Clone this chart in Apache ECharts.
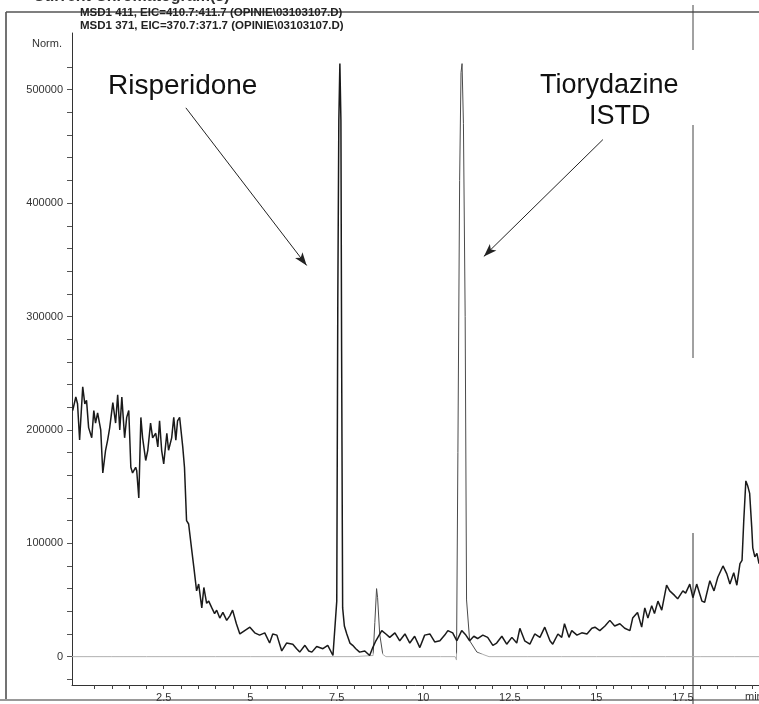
<!DOCTYPE html>
<html>
<head>
<meta charset="utf-8">
<script src="https://cdn.jsdelivr.net/npm/echarts@6/dist/echarts.min.js"></script>
<style>
  html, body { margin: 0; background: #fff; }
  #main { width: 759px; height: 704px; }
</style>
</head>
<body>
<div id="main"></div>
<script>
// MSD1 411 trace (noisy background + Risperidone), time in min, counts in thousands
const msd411Time = [
  -0.13, -0.04, 0.01, 0.07, 0.16, 0.22, 0.27, 0.33, 0.42, 0.48,
  0.53, 0.59, 0.68, 0.74, 0.82, 0.88, 0.94, 1.03, 1.11, 1.17,
  1.23, 1.29, 1.37, 1.43, 1.49, 1.55, 1.60, 1.69, 1.72, 1.78,
  1.84, 1.89, 1.98, 2.04, 2.12, 2.18, 2.27, 2.33, 2.38, 2.44,
  2.50, 2.59, 2.64, 2.73, 2.79, 2.85, 2.90, 2.96, 3.05, 3.10,
  3.16, 3.22, 3.31, 3.37, 3.45, 3.51, 3.60, 3.66, 3.74, 3.80,
  3.89, 3.97, 4.03, 4.12, 4.21, 4.32, 4.41, 4.49, 4.60, 4.70,
  4.84, 4.99, 5.13, 5.27, 5.42, 5.56, 5.65, 5.77, 5.91, 6.05,
  6.23, 6.34, 6.43, 6.58, 6.69, 6.78, 6.92, 7.10, 7.24, 7.39,
  7.44, 7.50, 7.53, 7.56, 7.59, 7.62, 7.64, 7.67, 7.72, 7.79,
  7.88, 7.96, 8.05, 8.16, 8.31, 8.45, 8.54, 8.63, 8.68, 8.80,
  8.92, 9.03, 9.18, 9.32, 9.47, 9.61, 9.75, 9.90, 10.04, 10.19,
  10.33, 10.48, 10.62, 10.71, 10.85, 10.97, 11.11, 11.23, 11.34, 11.46,
  11.57, 11.72, 11.86, 12.01, 12.12, 12.27, 12.41, 12.56, 12.70, 12.79,
  12.93, 13.08, 13.22, 13.37, 13.51, 13.66, 13.74, 13.89, 14.00, 14.08,
  14.21, 14.29, 14.44, 14.58, 14.73, 14.87, 14.96, 15.10, 15.25, 15.39,
  15.53, 15.68, 15.82, 15.97, 16.05, 16.19, 16.31, 16.40, 16.49, 16.60,
  16.68, 16.78, 16.89, 17.03, 17.12, 17.26, 17.35, 17.50, 17.58, 17.70,
  17.79, 17.90, 18.05, 18.13, 18.28, 18.40, 18.51, 18.66, 18.77, 18.86,
  18.97, 19.06, 19.15, 19.21, 19.26, 19.32, 19.37, 19.43, 19.49, 19.52,
  19.58, 19.64, 19.70
];
const msd411K = [
  217, 229, 223, 191, 238, 223, 226, 202, 193, 217,
  206, 215, 200, 162, 182, 191, 202, 224, 206, 231,
  200, 229, 193, 211, 217, 167, 162, 167, 164, 140,
  211, 193, 173, 182, 206, 193, 197, 185, 208, 182,
  170, 197, 182, 193, 211, 191, 208, 211, 185, 167,
  120, 117, 94, 79, 58, 64, 43, 61, 47, 49,
  43, 38, 41, 34, 39, 32, 36, 41, 29, 20,
  23, 26, 21, 19, 21, 12, 20, 19, 5, 12,
  11, 7, 4, 10, 5, 4, 9, 7, 10, 1,
  1, 49, 314, 473, 523, 473, 270, 43, 27, 20,
  12, 10, 7, 4, 5, 1, 8, 14, 14, 23,
  20, 17, 21, 14, 20, 12, 18, 8, 19, 20,
  13, 14, 19, 23, 21, 14, 23, 19, 14, 18,
  16, 19, 17, 10, 12, 18, 11, 17, 12, 25,
  14, 11, 20, 17, 26, 14, 11, 20, 17, 29,
  17, 23, 19, 21, 20, 25, 26, 23, 27, 32,
  27, 29, 25, 23, 34, 39, 26, 43, 34, 45,
  38, 49, 41, 63, 58, 54, 51, 58, 56, 64,
  52, 64, 49, 48, 67, 58, 70, 80, 73, 64,
  74, 63, 82, 85, 120, 155, 151, 144, 114, 96,
  88, 91, 82
];

// MSD1 371 trace (flat baseline + Tiorydazine ISTD)
const msd371Time = [
  -0.15, 1.0, 2.0, 3.0, 4.0, 5.0, 6.0, 7.0, 8.0, 8.55,
  8.60, 8.65, 8.68, 8.74, 8.83, 8.92, 9.5, 10.5, 10.92, 10.96,
  11.00, 11.05, 11.09, 11.12, 11.16, 11.21, 11.25, 11.34, 11.55, 11.72,
  11.90, 13.0, 14.0, 15.0, 16.0, 17.0, 18.0, 19.0, 19.7
];
const msd371K = [
  0, 0, 0, 0, 0, 0, 0, 0, 0, 1,
  30, 60, 52, 20, 2, 0, 0, 0, 0, -3,
  180, 420, 515, 523, 470, 300, 50, 14, 4, 2,
  0, 0, 0, 0, 0, 0, 0, 0, 0
];

const yLabelValues = [0, 100000, 200000, 300000, 400000, 500000];
const xLabelValues = [2.5, 5, 7.5, 10, 12.5, 15, 17.5];

const yTicks = [];
for (let v = -20000; v <= 520000; v += 20000) yTicks.push(v);
const xTicks = [];
for (let v = 0.5; v <= 19.5; v += 0.5) xTicks.push(+v.toFixed(1));

const toPairs = (t, k) => t.map((x, i) => [x, k[i] * 1000]);

const font = 'Liberation Sans, Arial, sans-serif';

// faint near the zero baseline, darker on the peaks (page coordinates)
const baselineFade = {
  type: 'linear', x: 0, y: 640, x2: 0, y2: 660, global: true,
  colorStops: [
    { offset: 0, color: '#4a4a4a' },
    { offset: 0.6, color: '#4a4a4a' },
    { offset: 0.72, color: '#b0b0b0' },
    { offset: 1, color: '#b0b0b0' }
  ]
};

const chart = echarts.init(document.getElementById('main'));

chart.setOption({
  animation: false,
  backgroundColor: '#fff',
  grid: { left: 72, right: 0, top: 33, bottom: 19 },
  xAxis: {
    type: 'value',
    min: -0.15,
    max: 19.7,
    axisLine: { show: true, onZero: false, lineStyle: { color: '#333', width: 1 } },
    axisTick: { show: true, length: 4, customValues: xTicks, lineStyle: { color: '#444' } },
    axisLabel: {
      customValues: xLabelValues, margin: 7,
      fontSize: 11, fontFamily: font, color: '#333',
      formatter: v => String(v)
    },
    splitLine: { show: false }
  },
  yAxis: {
    type: 'value',
    min: -25000,
    max: 550000,
    axisLine: { show: true, onZero: false, lineStyle: { color: '#333', width: 1 } },
    axisTick: { show: true, length: 5, customValues: yTicks, lineStyle: { color: '#555' } },
    axisLabel: {
      customValues: yLabelValues, margin: 9,
      fontSize: 11, fontFamily: font, color: '#333',
      formatter: v => String(v)
    },
    splitLine: { show: false }
  },
  series: [
    {
      name: 'MSD1 371',
      type: 'line',
      showSymbol: false,
      data: toPairs(msd371Time, msd371K),
      lineStyle: { color: baselineFade, width: 1 }
    },
    {
      name: 'MSD1 411',
      type: 'line',
      showSymbol: false,
      data: toPairs(msd411Time, msd411K),
      lineStyle: { color: '#1a1a1a', width: 1.5 },
      markLine: {
        silent: true,
        symbol: ['none', 'arrow'],
        symbolSize: [7, 13],
        label: { show: false },
        lineStyle: { color: '#222', width: 1, type: 'solid' },
        data: [
          [{ coord: [3.14, 484000] }, { coord: [6.63, 345000] }],
          [{ coord: [15.19, 456000] }, { coord: [11.75, 353000] }]
        ]
      }
    }
  ],
  graphic: [
    // scan frame
    { type: 'line', shape: { x1: 6, y1: 12, x2: 6, y2: 700 }, style: { stroke: '#444', lineWidth: 1.5 } },
    { type: 'line', shape: { x1: 6, y1: 12, x2: 759, y2: 12 }, style: { stroke: '#555', lineWidth: 1.5 } },
    { type: 'line', shape: { x1: 0, y1: 700, x2: 759, y2: 700 }, style: { stroke: '#999', lineWidth: 2 } },
    { type: 'line', shape: { x1: 693, y1: 5, x2: 693, y2: 50 }, style: { stroke: '#444', lineWidth: 1 } },
    { type: 'line', shape: { x1: 693, y1: 125, x2: 693, y2: 358 }, style: { stroke: '#444', lineWidth: 1 } },
    { type: 'line', shape: { x1: 693, y1: 533, x2: 693, y2: 704 }, style: { stroke: '#333', lineWidth: 1 } },
    // header
    { type: 'text', left: 33, top: -11, style: { text: 'Current Chromatogram(s)', font: 'bold 16px ' + font, fill: '#333' } },
    { type: 'text', left: 80, top: 7, style: { text: 'MSD1 411, EIC=410.7:411.7 (OPINIE\\03103107.D)', font: 'bold 11.5px ' + font, fill: '#222' } },
    { type: 'text', left: 80, top: 20, style: { text: 'MSD1 371, EIC=370.7:371.7 (OPINIE\\03103107.D)', font: 'bold 11.5px ' + font, fill: '#222' } },
    { type: 'text', left: 32, top: 38, style: { text: 'Norm.', font: '11px ' + font, fill: '#333' } },
    { type: 'text', left: 745, top: 691, style: { text: 'min', font: '11px ' + font, fill: '#333' } },
    // annotations
    { type: 'text', left: 108, top: 72, style: { text: 'Risperidone', font: '28px ' + font, fill: '#111' } },
    { type: 'text', left: 540, top: 72, style: { text: 'Tiorydazine', font: '27px ' + font, fill: '#111' } },
    { type: 'text', left: 589, top: 103, style: { text: 'ISTD', font: '27px ' + font, fill: '#111' } }
  ]
});
</script>
</body>
</html>
